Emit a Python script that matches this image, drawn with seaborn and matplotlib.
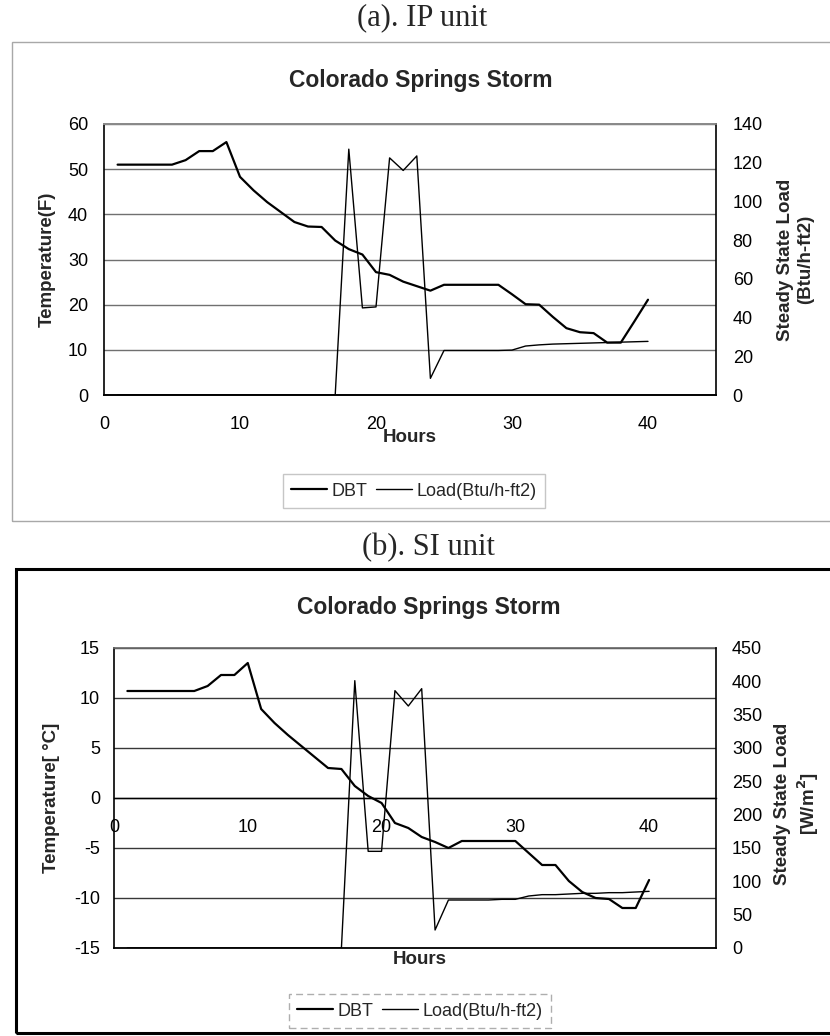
import matplotlib
matplotlib.use("Agg")
import matplotlib.pyplot as plt
from matplotlib.patches import Rectangle
import pandas as pd
import seaborn as sns

# ---- data -------------------------------------------------------------
hours = [1, 2, 3, 4, 5, 6, 7, 8, 9, 10,
         11, 12, 13, 14, 15, 16, 17, 18, 19, 20,
         21, 22, 23, 24, 25, 26, 27, 28, 29, 30,
         31, 32, 33, 34, 35, 36, 37, 38, 39, 40]

# (a) IP units: dry-bulb temperature [F] and steady state load [Btu/h-ft2]
dbt_ip = [51.0, 51.0, 51.0, 51.0, 51.0, 52.0, 54.0, 54.0, 56.0, 48.3,
          45.3, 42.7, 40.5, 38.3, 37.3, 37.2, 34.2, 32.3, 31.1, 27.2,
          26.6, 25.1, 24.1, 23.1, 24.4, 24.4, 24.4, 24.4, 24.4, 22.3,
          20.1, 20.0, 17.3, 14.8, 13.9, 13.7, 11.6, 11.6, 16.3, 21.1]
load_ip = [0, 0, 0, 0, 0, 0, 0, 0, 0, 0,
           0, 0, 0, 0, 0, 0, 0, 127.0, 45.0, 45.5,
           122.5, 116.0, 123.5, 8.6, 23.0, 23.0, 23.0, 23.0, 23.0, 23.2,
           25.3, 25.9, 26.3, 26.5, 26.7, 26.9, 27.1, 27.3, 27.5, 27.7]

# (b) SI units: dry-bulb temperature [C] and steady state load [W/m2]
dbt_si = [10.7, 10.7, 10.7, 10.7, 10.7, 10.7, 11.2, 12.3, 12.3, 13.5,
          8.9, 7.5, 6.3, 5.2, 4.1, 3.0, 2.9, 1.2, 0.2, -0.5,
          -2.5, -3.0, -3.9, -4.4, -5.0, -4.3, -4.3, -4.3, -4.3, -4.3,
          -5.5, -6.7, -6.7, -8.3, -9.4, -10.0, -10.1, -11.0, -11.0, -8.2]
load_si = [0, 0, 0, 0, 0, 0, 0, 0, 0, 0,
           0, 0, 0, 0, 0, 0, 0, 401, 145, 145,
           386, 363, 389, 27, 72, 72, 72, 72, 73, 73,
           78, 80, 80, 81, 82, 82, 83, 83, 84, 85]

x_ticks = [0, 10, 20, 30, 40]
ip_temp_ticks = [0, 10, 20, 30, 40, 50, 60]
ip_load_ticks = [0, 20, 40, 60, 80, 100, 120, 140]
si_temp_ticks = [-15, -10, -5, 0, 5, 10, 15]
si_load_ticks = [0, 50, 100, 150, 200, 250, 300, 350, 400, 450]

series_labels = ["DBT", "Load(Btu/h-ft2)"]

# ---- style ------------------------------------------------------------
sns.set_theme(style="white")
plt.rcParams["font.family"] = ["Liberation Sans", "DejaVu Sans"]
plt.rcParams["axes.edgecolor"] = "black"
plt.rcParams["axes.unicode_minus"] = False

W, H = 830, 1036
fig = plt.figure(figsize=(W / 100, H / 100), dpi=100)
fig.patch.set_facecolor("white")


def px_axes(left, top, right, bottom):
    return fig.add_axes([left / W, 1 - bottom / H, (right - left) / W, (bottom - top) / H])


TICK_FS = 13
LABEL_FS = 13.5
TITLE_FS = 16.5
SERIF = ["Liberation Serif", "DejaVu Serif"]
DBT_LW = 1.6
LOAD_LW = 1.0

# chart-area frames
fig.add_artist(Rectangle((12 / W, 1 - 521 / H), 830 / W, (521 - 42) / H,
                         transform=fig.transFigure, fill=False,
                         ec="#a8a8a8", lw=1.0))
fig.add_artist(Rectangle((16 / W, 1 - 1033 / H), 830 / W, (1033 - 569) / H,
                         transform=fig.transFigure, fill=False,
                         ec="black", lw=2.2))

# ======================= (a) IP unit ===================================
fig.text(422 / W, 1 - 18 / H, "(a). IP unit", family=SERIF, fontsize=22,
         ha="center", va="center")
fig.text(421 / W, 1 - 87 / H, "Colorado Springs Storm", fontsize=TITLE_FS,
         fontweight="bold", ha="center", va="baseline")

df_ip = pd.DataFrame({"Hours": hours, "DBT": dbt_ip, "Load": load_ip})

ax = px_axes(104, 124, 716, 395)
sns.lineplot(data=df_ip, x="Hours", y="DBT", ax=ax, color="black",
             lw=DBT_LW, errorbar=None)
ax2 = ax.twinx()
sns.lineplot(data=df_ip, x="Hours", y="Load", ax=ax2, color="black",
             lw=LOAD_LW, errorbar=None)

ax.set_xlim(0, 45)
ax.set_ylim(0, 60)
ax2.set_ylim(0, 140)
ax.set_xticks(x_ticks)
ax.set_yticks(ip_temp_ticks)
ax2.set_yticks(ip_load_ticks)
ax.yaxis.grid(True, color="#707070", lw=1.0)
ax.xaxis.grid(False)
ax.set_axisbelow(True)

for a in (ax, ax2):
    a.spines["top"].set_color("#8a8a8a")
    for s in ("left", "right", "bottom"):
        a.spines[s].set_linewidth(1.2)
ax.spines["right"].set_visible(False)
ax2.spines["left"].set_visible(False)

ax.tick_params(axis="y", length=0, pad=11.5, labelsize=TICK_FS, colors="black")
ax.tick_params(axis="x", length=4, width=1, direction="inout", pad=13,
               labelsize=TICK_FS, colors="black")
ax2.tick_params(axis="y", length=0, pad=12, labelsize=TICK_FS, colors="black")

ax.set_xlabel("Hours", fontsize=LABEL_FS, fontweight="bold")
ax.xaxis.label.set_va("center")
ax.xaxis.set_label_coords(0.5, -0.155)
ax.set_ylabel("Temperature(F)", fontsize=LABEL_FS, fontweight="bold")
ax.yaxis.label.set(va="center", ha="center")
ax.yaxis.set_label_coords(-0.093, 0.5)
ax2.set_ylabel("Steady State Load\n(Btu/h-ft2)", fontsize=LABEL_FS,
               fontweight="bold", linespacing=1.25)
ax2.yaxis.label.set(va="center", ha="center", rotation=90)
ax2.yaxis.set_label_coords(1.13, 0.5)

leg = fig.legend([ax.lines[0], ax2.lines[0]], series_labels, loc="center",
                 bbox_to_anchor=(414 / W, 1 - 491 / H), ncol=2,
                 fontsize=13, handlelength=2.0, handletextpad=0.25,
                 columnspacing=0.45, borderpad=0.45, frameon=True,
                 fancybox=False)
leg.get_frame().set_edgecolor("#b8b8b8")
leg.get_frame().set_linewidth(1.0)

# ======================= (b) SI unit ===================================
fig.text(428 / W, 1 - 548 / H, "(b). SI unit", family=SERIF, fontsize=22,
         ha="center", va="center")
fig.text(429 / W, 1 - 614 / H, "Colorado Springs Storm", fontsize=TITLE_FS,
         fontweight="bold", ha="center", va="baseline")

df_si = pd.DataFrame({"Hours": hours, "DBT": dbt_si, "Load": load_si})

bx = px_axes(114, 648, 716, 948)
sns.lineplot(data=df_si, x="Hours", y="DBT", ax=bx, color="black",
             lw=DBT_LW, errorbar=None)
bx2 = bx.twinx()
sns.lineplot(data=df_si, x="Hours", y="Load", ax=bx2, color="black",
             lw=LOAD_LW, errorbar=None)

bx.set_xlim(0, 45)
bx.set_ylim(-15, 15)
bx2.set_ylim(0, 450)
bx.set_xticks(x_ticks)
bx.set_yticks(si_temp_ticks)
bx2.set_yticks(si_load_ticks)
bx.yaxis.grid(True, color="#383838", lw=1.0)
bx.xaxis.grid(False)
bx.set_axisbelow(True)

# horizontal axis crosses the temperature axis at 0 C
bx.spines["bottom"].set_position(("data", 0))
bx.spines["bottom"].set_linewidth(1.0)
bx.spines["right"].set_visible(False)
bx.spines["top"].set_color("#6a6a6a")
bx2.spines["left"].set_visible(False)
bx2.spines["top"].set_visible(False)
bx.spines["left"].set_linewidth(1.2)
bx2.spines["right"].set_linewidth(1.2)
bx2.spines["bottom"].set_linewidth(1.3)

bx.tick_params(axis="y", length=0, pad=10, labelsize=TICK_FS, colors="black")
bx.tick_params(axis="x", length=6, width=1, direction="inout", pad=12,
               labelsize=TICK_FS, colors="black")
bx2.tick_params(axis="y", length=0, pad=11.5, labelsize=TICK_FS, colors="black")

bx.set_xlabel("Hours", fontsize=LABEL_FS, fontweight="bold")
bx.xaxis.label.set_va("center")
bx.xaxis.set_label_coords(0.508, -0.04)
bx.set_ylabel("Temperature[ °C]", fontsize=LABEL_FS, fontweight="bold")
bx.yaxis.label.set(va="center", ha="center")
bx.yaxis.set_label_coords(-0.103, 0.5)
bx2.set_ylabel("Steady State Load\n[W/m$^\\mathbf{2}$]", fontsize=LABEL_FS,
               fontweight="bold", linespacing=1.25)
bx2.yaxis.label.set(va="center", ha="center", rotation=90)
bx2.yaxis.set_label_coords(1.135, 0.48)

leg2 = fig.legend([bx.lines[0], bx2.lines[0]], series_labels, loc="center",
                  bbox_to_anchor=(420 / W, 1 - 1011 / H), ncol=2,
                  fontsize=13, handlelength=2.0, handletextpad=0.25,
                  columnspacing=0.45, borderpad=0.45, frameon=True,
                  fancybox=False)
leg2.get_frame().set_edgecolor("#9a9a9a")
leg2.get_frame().set_linewidth(1.0)
leg2.get_frame().set_linestyle((0, (5, 3)))

fig.savefig("out.png", dpi=100, facecolor="white")
